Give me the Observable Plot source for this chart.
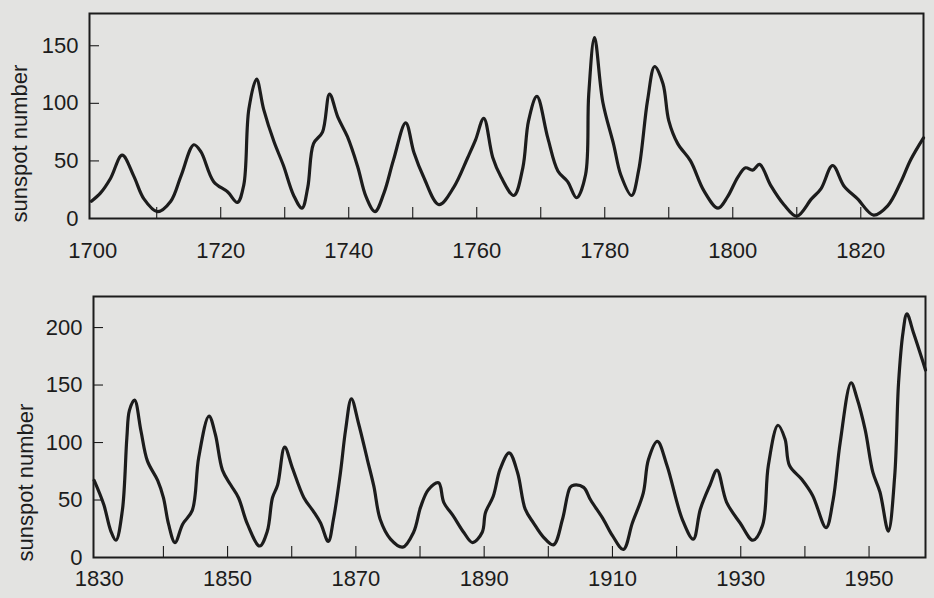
<!DOCTYPE html>
<html><head><meta charset="utf-8">
<script src="https://cdn.jsdelivr.net/npm/d3@7"></script>
<script src="https://cdn.jsdelivr.net/npm/@observablehq/plot@0.6"></script>
<style>
html,body{margin:0;padding:0;background:#e3e3e1;}
#chart svg{display:block;}
</style></head><body><div id="chart"></div>
<script>
// Panel 1: 1700–1830
const years1 = [1699.8,1701.2,1702.8,1704.6,1706.4,1708.0,1710.1,1712.2,1713.8,1715.8,1716.9,1718.9,1721.1,1722.6,1723.6,1724.4,1725.6,1726.7,1728.3,1729.8,1731.4,1732.7,1733.6,1734.5,1735.9,1737.0,1738.3,1739.8,1741.4,1742.7,1744.1,1745.5,1747.0,1748.9,1750.2,1751.7,1754.1,1756.4,1758.6,1759.8,1761.1,1762.5,1763.8,1765.8,1767.2,1768.1,1769.4,1771.1,1772.7,1774.2,1775.6,1777.0,1777.5,1778.4,1779.7,1781.4,1782.5,1784.2,1785.3,1786.7,1787.8,1789.1,1790.0,1791.4,1793.4,1795.5,1797.7,1799.2,1800.8,1802.0,1803.1,1804.2,1805.9,1808.0,1810.0,1812.3,1813.8,1815.6,1817.4,1819.5,1822.0,1824.2,1826.2,1827.8,1829.8];
const values1 = [15,22,35,55,37,17,6,15,37,64,58,32,23,14,29,95,121,95,67,46,20,9,27,65,75,108,88,71,45,19,6,22,51,83,57,36,12,27,53,68,87,53,36,20,44,85,106,70,41,32,18,38,108,157,101,64,38,20,42,103,132,117,85,65,50,24,9,19,36,44,42,47,29,12,2,17,26,46,28,17,3,11,31,51,70];
// Panel 2: 1830–1960
const years2 = [1829.2,1830.7,1831.8,1832.6,1833.6,1834.3,1834.7,1835.5,1836.5,1837.5,1839.1,1840.0,1840.8,1841.8,1843.0,1844.5,1845.5,1847.1,1848.1,1849.2,1850.5,1851.7,1853.1,1855.0,1856.2,1857.0,1857.8,1858.9,1860.1,1861.9,1863.4,1864.5,1865.7,1866.5,1867.6,1868.4,1869.3,1870.4,1871.8,1872.8,1873.8,1875.4,1877.3,1879.0,1880.1,1881.3,1882.9,1883.7,1885.2,1886.8,1888.2,1889.7,1890.2,1891.4,1892.5,1893.9,1895.2,1896.4,1897.7,1899.2,1900.8,1902.2,1903.4,1904.0,1905.5,1906.6,1908.6,1910.0,1911.7,1913.1,1914.8,1915.6,1917.0,1918.5,1920.9,1922.6,1923.7,1925.2,1926.3,1927.8,1929.9,1931.9,1933.4,1934.3,1935.8,1936.9,1937.6,1939.5,1941.2,1943.3,1944.4,1945.5,1947.2,1948.1,1949.4,1950.6,1951.7,1953.0,1954.0,1954.6,1955.3,1955.9,1956.9,1958.3,1958.8];
const values2 = [67,46,23,15,41,104,128,137,110,84,67,52,29,13,29,41,87,123,107,76,63,52,29,10,23,52,63,96,78,52,40,30,14,33,74,111,138,117,85,62,33,16,9,22,44,59,65,48,36,22,13,22,39,53,77,91,74,42,30,18,11,33,61,63,61,50,33,19,7,30,56,85,101,80,33,16,42,63,76,48,30,15,28,80,115,103,80,68,54,26,50,100,152,139,111,74,57,23,71,152,196,212,196,172,163];

const xTicks1 = [1710,1720,1730,1740,1750,1760,1770,1780,1790,1800,1810,1820];
const xLabels1 = [1700,1720,1740,1760,1780,1800,1820];
const yTicks1 = [50,100,150];
const xTicks2 = [1840,1850,1860,1870,1880,1890,1900,1910,1920,1930,1940,1950];
const xLabels2 = [1830,1850,1870,1890,1910,1930,1950];
const yTicks2 = [50,100,150,200];
const yLabels1 = [0,50,100,150];
const yLabels2 = [0,50,100,150,200];
const yLabel = "sunspot number";

const ink = "#1c1c1c";
function panel({years, values, xDomain, yDomain, xTicks, xLabels, yTicks, yLabels, height, marginTop, marginBottom, marginLeft, marginRight, xLabelPad, labelDx}) {
  const data = years.map((t, i) => ({year: t, value: values[i]}));
  return Plot.plot({
    width: 934, height, marginTop, marginBottom, marginLeft, marginRight,
    style: {background: "transparent", fontFamily: "'Liberation Sans', Arial, sans-serif", fontSize: "22px", color: ink},
    x: {domain: xDomain},
    y: {domain: yDomain},
    marks: [
      Plot.axisX(xTicks, {tickSize: 11, dy: -11, text: null, label: null, strokeWidth: 1.1}),
      Plot.axisX(xLabels, {tickSize: 0, tickPadding: xLabelPad, label: null, fontSize: 22, tickFormat: d => String(d)}),
      Plot.axisY(yTicks, {tickSize: 10, dx: 10, text: null, label: null, strokeWidth: 1.1}),
      Plot.axisY(yLabels, {tickSize: 0, tickPadding: 11, fontSize: 22, tickFormat: d => String(d), label: null}),
      Plot.text([yLabel], {text: d => d, frameAnchor: "bottom-left", rotate: -90, textAnchor: "start", lineAnchor: "top", dx: labelDx, dy: 4, fontSize: 22, fill: ink}),
      Plot.frame({strokeWidth: 2, stroke: ink}),
      Plot.line(data, {x: "year", y: "value", curve: "catmull-rom", strokeWidth: 3.2, stroke: ink})
    ]
  });
}

const root = document.getElementById("chart");
root.append(panel({years: years1, values: values1, xDomain: [1699.5, 1829.8], yDomain: [0, 178],
  xTicks: xTicks1, xLabels: xLabels1, yTicks: yTicks1, yLabels: yLabels1,
  height: 275, marginTop: 13, marginBottom: 57, marginLeft: 89, marginRight: 11, xLabelPad: 24, labelDx: -78}));
root.append(panel({years: years2, values: values2, xDomain: [1829.1, 1958.8], yDomain: [0, 227],
  xTicks: xTicks2, xLabels: xLabels2, yTicks: yTicks2, yLabels: yLabels2,
  height: 323, marginTop: 21, marginBottom: 41, marginLeft: 93, marginRight: 9, xLabelPad: 13, labelDx: -76}));
</script></body></html>
